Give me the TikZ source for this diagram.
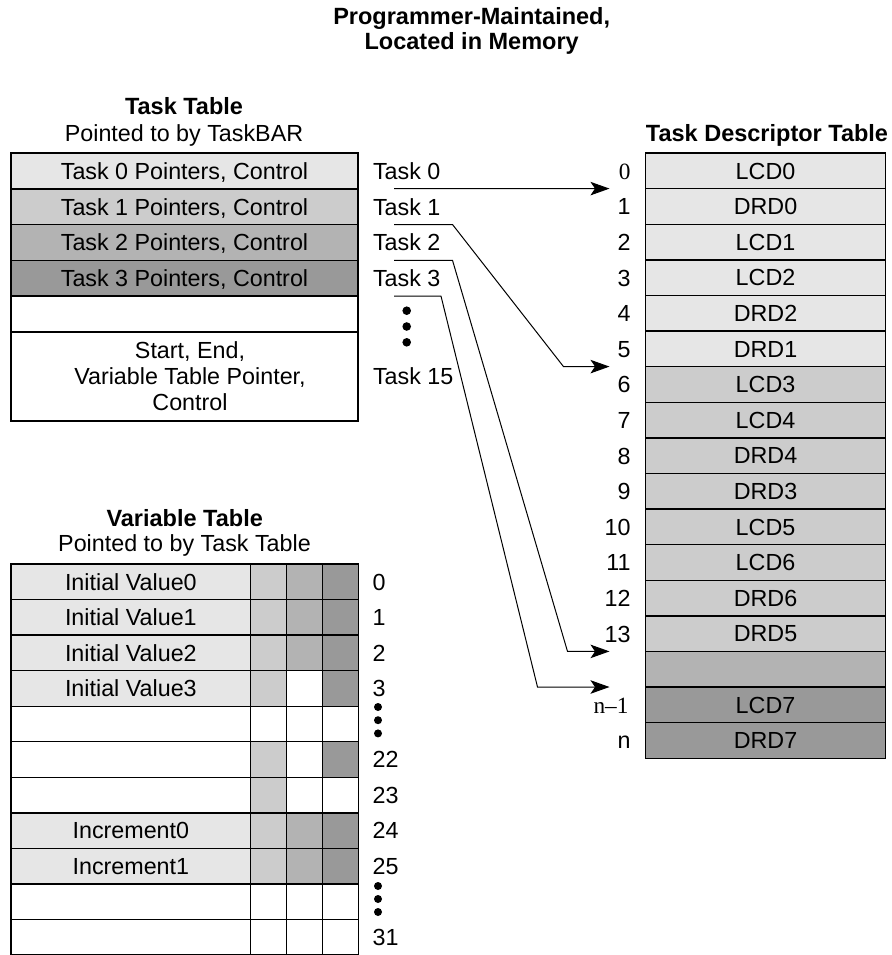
\documentclass[tikz,border=0pt]{standalone}
\usepackage{fontspec}
\setmainfont{Liberation Sans}
\newfontfamily\serifnum{Liberation Serif}
\usetikzlibrary{arrows.meta,calc}
\definecolor{gA}{HTML}{E6E6E6}
\definecolor{gB}{HTML}{CCCCCC}
\definecolor{gC}{HTML}{B3B3B3}
\definecolor{gD}{HTML}{999999}
\begin{document}
\begin{tikzpicture}[x=1pt,y=-1pt,
  every node/.style={font=\fontsize{23.3}{26}\selectfont, inner sep=0pt, outer sep=0pt},
  cell/.style={draw, line width=1.4pt, minimum height=35.7pt, text height=16.7pt, text depth=0pt, anchor=north west},
  vcell/.style={draw, line width=1.4pt, minimum height=35.55pt, text height=16.7pt, text depth=0pt, anchor=north west},
  hdr/.style={font=\fontsize{23.5}{23.5}\selectfont\bfseries, anchor=base},
  sub/.style={anchor=base},
  lbl/.style={anchor=base west},
  idx/.style={anchor=base east},
  conn/.style={line width=1pt, -{Stealth[length=19pt,width=13.5pt,inset=4.5pt]}},
  dot/.style={fill=black}]
\useasboundingbox (0,0) rectangle (891,955);

% title
\node[hdr] (title) at (471.7,25) {\begin{tabular}[t]{@{}c@{}}Programmer-Maintained,\\ Located in Memory\end{tabular}};

% ---------- Task table ----------
\node[hdr] (tth) at (184,115) {Task Table};
\node[sub] (tts) at (184,142) {Pointed to by TaskBAR};
\node[cell, fill=gA, minimum width=347pt] (tt0) at (11,153) {Task 0 Pointers, Control};
\node[cell, fill=gB, minimum width=347pt] (tt1) at (11,188.8) {Task 1 Pointers, Control};
\node[cell, fill=gC, minimum width=347pt] (tt2) at (11,224.6) {Task 2 Pointers, Control};
\node[cell, fill=gD, minimum width=347pt] (tt3) at (11,260.4) {Task 3 Pointers, Control};
\node[cell, fill=white, minimum width=347pt] (tt4) at (11,296.2) {};
\node[cell, fill=white, minimum width=347pt, minimum height=89pt] (tt5) at (11,332) {};
\node[anchor=base] (tt5t) at (190,358.3) {\begin{tabular}[t]{@{}c@{}}Start, End,\\ Variable Table Pointer,\\ Control\end{tabular}};

\node[lbl] (k0) at (373,179.2) {Task 0};
\node[lbl] (k1) at (373,215) {Task 1};
\node[lbl] (k2) at (373,250.8) {Task 2};
\node[lbl] (k3) at (373,286.6) {Task 3};
\node[lbl] (k15) at (373,384) {Task 15};
\fill[dot] (406.7,310.7) circle (4.3);
\fill[dot] (406.7,326.5) circle (4.3);
\fill[dot] (406.7,342.3) circle (4.3);

% ---------- Task descriptor table ----------
\node[hdr] (tdh) at (767,141.7) {Task Descriptor Table};
\foreach \t/\c [count=\i from 0] in {LCD0/gA, DRD0/gA, LCD1/gA, LCD2/gA, DRD2/gA, DRD1/gA, LCD3/gB, LCD4/gB, DRD4/gB, DRD3/gB, LCD5/gB, LCD6/gB, DRD6/gB, DRD5/gB, {}/gC, LCD7/gD, DRD7/gD}
  \node[cell, fill=\c, minimum width=240pt, minimum height=35.6pt] (dr\i) at (645.5,{153+\i*35.6}) {\t};
\node[idx] (ix0) at ($(dr0.north west)+(-15,26.2)$) {\serifnum 0};
\foreach \i in {1,...,13}
  \node[idx] (ix\i) at ($(dr\i.north west)+(-15,26.2)$) {\i};
\node[idx] (ix15) at ($(dr15.north west)+(-17,26.2)$) {\serifnum n–1};
\node[idx] (ix16) at ($(dr16.north west)+(-15,26.2)$) {n};

% ---------- connectors ----------
\draw[conn] ($(tt0.south east)+(36,0)$) -- ($(dr0.south west)+(-36,0)$);
\draw[conn] ($(tt1.south east)+(36,0)$) -- ++(58.5,0) -- ($(dr5.south west)+(-82,0)$) -- ($(dr5.south west)+(-36,0)$);
\draw[conn] ($(tt2.south east)+(36,0)$) -- ++(58.5,0) -- ($(dr13.south west)+(-78,0)$) -- ($(dr13.south west)+(-36,0)$);
\draw[conn] ($(tt3.south east)+(36,0)$) -- ++(47,0) -- ($(dr14.south west)+(-108,0)$) -- ($(dr14.south west)+(-36,0)$);

% ---------- Variable table ----------
\node[hdr] (vth) at (184.7,526) {Variable Table};
\node[sub] (vts) at (184.5,551.7) {Pointed to by Task Table};
\foreach \n/\a/\b/\c/\d [count=\i from 0] in {
  Initial Value0/gA/gB/gC/gD,
  Initial Value1/gA/gB/gC/gD,
  Initial Value2/gA/gB/gC/gD,
  Initial Value3/gA/gB/white/gD,
  {}/white/white/white/white,
  {}/white/gB/white/gD,
  {}/white/gB/white/white,
  Increment0/gA/gB/gC/gD,
  Increment1/gA/gB/gC/gD,
  {}/white/white/white/white,
  {}/white/white/white/white}
{
  \node[vcell, fill=\a, minimum width=239.7pt] (vn\i) at (11,{564+\i*35.55}) {\n};
  \node[vcell, fill=\b, minimum width=36pt] (va\i) at (250.7,{564+\i*35.55}) {};
  \node[vcell, fill=\c, minimum width=35.6pt] (vb\i) at (286.7,{564+\i*35.55}) {};
  \node[vcell, fill=\d, minimum width=36pt] (vc\i) at (322.3,{564+\i*35.55}) {};
}
\foreach \l/\i in {0/0,1/1,2/2,3/3,22/5,23/6,24/7,25/8,31/10}
  \node[lbl] (vi\i) at ($(vc\i.north east)+(14.4,26.1)$) {\l};
\fill[dot] (378,707) circle (4);
\fill[dot] (378,720.2) circle (4);
\fill[dot] (378,733.4) circle (4);
\fill[dot] (378,886) circle (4);
\fill[dot] (378,899) circle (4);
\fill[dot] (378,912) circle (4);
\end{tikzpicture}
\end{document}
